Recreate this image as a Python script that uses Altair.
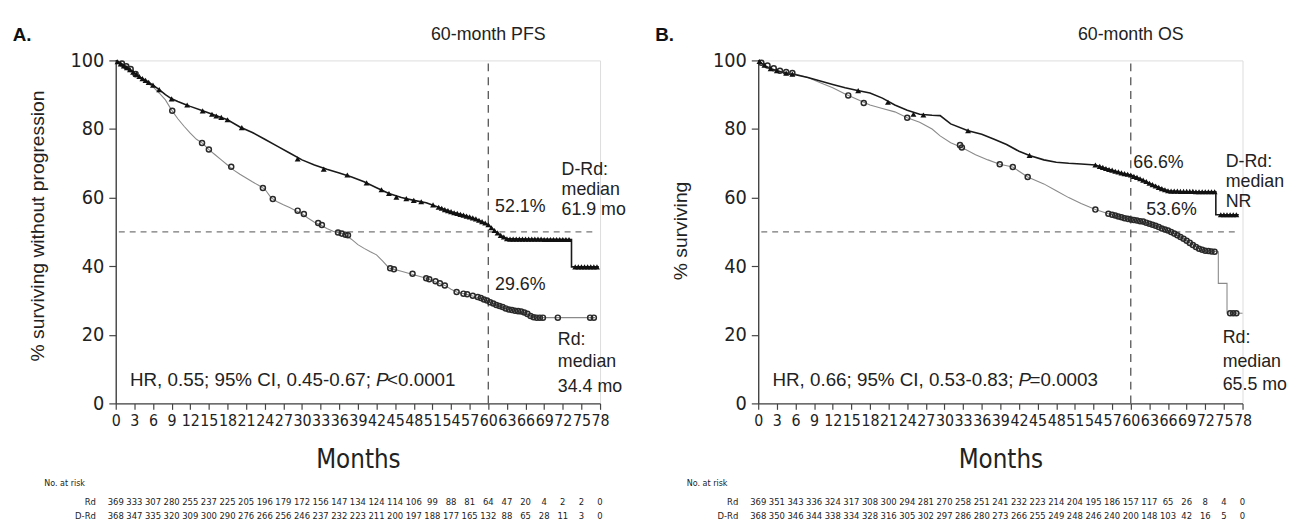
import altair as alt
import pandas as pd

SANS = "Liberation Sans, Arial, Helvetica, sans-serif"
NARROW = "Liberation Sans Narrow, Arial Narrow, DejaVu Sans Condensed, sans-serif"
INK = "#222222"

month_ticks = list(range(0, 79, 3))
pct_ticks = [0, 20, 40, 60, 80, 100]

# ---------------- Panel A: PFS ----------------
pfs_drd_m = [0, 1, 2, 3, 4, 5, 6, 7, 8, 9, 10, 11, 12, 14, 16, 18, 20, 22, 24, 26, 28, 30, 32, 34, 36, 38, 40,
             42, 44, 46, 48, 50, 52, 54, 56, 58, 60, 61, 62, 63, 73.4, 73.4, 77.8]
pfs_drd_s = [100, 99, 97.8, 96.3, 95, 94, 92.8, 91.5, 90, 88.8, 88, 87.3, 86.6, 85.3, 84, 82.7, 80.6, 79, 77, 75,
             73, 71, 69.5, 68.3, 67.2, 66, 64.6, 62.9, 61.2, 60, 59.2, 58.5, 57.2, 55.9, 54.9, 53.8, 52.1, 50.4,
             49, 48, 47.8, 39.8, 39.8]
pfs_drd_cm = [0.3, 0.8, 1.3, 1.8, 2.3, 2.8, 3.3, 3.8, 4.3, 4.8, 5.3, 6, 7, 9, 11.5, 14, 15.5, 16.2, 17, 18, 20.3,
              29.3, 33.5, 37.3, 40.4, 42.8, 44, 45.2, 46.8, 48, 49.2, 51.1, 52, 52.5, 53, 53.5, 54, 54.5, 55,
              55.5, 56, 56.5, 57, 57.5, 58, 58.5, 59, 59.5, 60, 60.5, 61, 61.5, 62, 62.5, 63, 63.5, 64, 64.5,
              65, 65.5, 66, 66.5, 67, 67.5, 68, 68.5, 69, 69.5, 70, 70.5, 71, 71.5, 72, 72.5, 73,
              74, 74.5, 75, 75.5, 76, 76.5, 77, 77.5]
pfs_drd_cs = [99.6, 99, 98.4, 97.9, 97.3, 96.6, 96, 95.3, 94.7, 94.2, 93.6, 92.8, 91.5, 88.8, 87, 85.3, 84.3, 83.8,
              83.4, 82.7, 80.4, 71.3, 68.3, 66.6, 64.3, 62.3, 61.2, 60.1, 59.7, 59.2, 58.8, 57.9, 57.2, 56.9,
              56.5, 56.2, 55.9, 55.6, 55.4, 55.1, 54.9, 54.6, 54.4, 54.1, 53.8, 53.4, 53, 52.6, 52.1, 51.2,
              50.4, 49.7, 49, 48.5, 48, 47.9, 47.9, 47.9, 47.9, 47.9, 47.9, 47.9, 47.9, 47.9, 47.9, 47.9,
              47.8, 47.8, 47.8, 47.8, 47.8, 47.8, 47.8, 47.8, 47.8,
              39.8, 39.8, 39.8, 39.8, 39.8, 39.8, 39.8, 39.8]

pfs_rd_m = [0, 1, 2, 3, 4, 5, 6, 7, 8, 9, 10, 11, 12, 13, 14, 15, 16, 17, 18, 19, 20, 21, 22, 23, 24, 25, 26, 27,
            28, 29, 30, 31, 32, 33, 34, 35, 36, 37, 38, 39, 40, 41, 42, 43, 44, 45, 46, 47, 48, 49, 50, 51, 52,
            53, 54, 55, 56, 57, 58, 59, 60, 61, 62, 63, 64, 65, 66, 67, 68, 77.2]
pfs_rd_s = [100, 99, 97.8, 96.3, 94.8, 93.5, 92.3, 90.5, 88.5, 85.5, 83, 80.8, 78.8, 77, 75.8, 74, 72.5, 71, 69.5,
            68, 66.8, 65.7, 64.6, 63.6, 62.5, 60, 58.8, 57.9, 57.1, 56.2, 55.3, 54, 52.8, 52, 51, 50.2, 49.7,
            49.2, 47.8, 46.3, 45.2, 44.2, 43.3, 41.5, 39.5, 39, 38.5, 38, 37.5, 37, 36.5, 35.8, 35, 34.4, 33.3,
            32.4, 32, 31.6, 31, 30.4, 29.7, 28.9, 28.2, 27.5, 27.1, 26.8, 26.3, 25.3, 25, 25]
pfs_rd_cm = [1, 1.7, 2.4, 3.2, 9.1, 13.9, 15, 18.6, 23.7, 25.3, 29.3, 30.3, 32.6, 33.2, 35.8, 36.4, 37, 37.4,
             44.2, 44.8, 47.8, 50, 50.5, 51.5, 52.2, 53, 54.9, 56, 56.6, 57.5, 58.3, 58.8, 59.3, 59.8, 60.3,
             60.8, 61.3, 61.8, 62.3, 62.8, 63.3, 63.8, 64.3, 64.8, 65.3, 65.8, 66.3, 66.8, 67.3, 67.8, 68.3,
             68.8, 71.2, 76.4, 77]
pfs_rd_cs = [99.1, 98.3, 97.5, 96, 85.3, 75.9, 74, 69, 62.8, 59.6, 56.2, 55.2, 52.6, 52, 49.8, 49.5, 49.2, 49,
             39.4, 39.1, 37.8, 36.5, 36.2, 35.6, 35, 34.4, 32.5, 32, 31.8, 31.4, 31, 30.7, 30.3, 30, 29.5,
             29.1, 28.7, 28.4, 28.1, 27.7, 27.4, 27.2, 27, 26.9, 26.8, 26.5, 26.1, 25.5, 25.1, 25, 25,
             25, 25, 25, 25]

pfs_risk_rd = [369, 333, 307, 280, 255, 237, 225, 205, 196, 179, 172, 156, 147, 134, 124, 114, 106, 99, 88, 81,
               64, 47, 20, 4, 2, 2, 0]
pfs_risk_drd = [368, 347, 335, 320, 309, 300, 290, 276, 266, 256, 246, 237, 232, 223, 211, 200, 197, 188, 177,
                165, 132, 88, 65, 28, 11, 3, 0]

# ---------------- Panel B: OS ----------------
os_drd_m = [0, 1, 2, 3, 4, 5, 6, 8, 10, 12, 14, 16, 18, 20, 22, 24, 26, 28, 29.3, 31, 33.8, 36, 38, 40, 42, 43.7,
            46, 48, 50, 52, 54.3, 55.5, 57, 58.5, 60, 61.5, 63, 64.5, 66, 68, 73.7, 73.7, 77.4]
os_drd_s = [100, 98.5, 97.6, 97, 96.5, 96, 95.8, 95, 94, 93, 92, 91.2, 90.5, 89, 87, 85.5, 84.3, 84, 83.9, 81.5,
            79.5, 78.5, 77, 75.5, 73.5, 72.3, 71, 70.3, 70, 69.8, 69.5, 68.8, 68, 67.2, 66.6, 65.5, 64.2, 63, 62,
            61.8, 61.7, 55, 55]
os_drd_cm = [0.2, 1, 2, 3, 4.5, 5.5, 16.1, 20.9, 25, 26.6, 33.8, 43.7, 54.3, 55, 55.5, 56, 56.5, 57, 57.5, 58,
             58.5, 59, 59.5, 60, 60.5, 61, 61.5, 62, 62.5, 63, 63.5, 64, 64.5, 65, 65.5, 66, 66.5, 67, 67.5,
             68, 68.5, 69, 69.5, 70, 70.5, 71, 71.5, 72, 72.5, 73, 73.5, 74.5, 75, 75.5, 76, 76.5, 77]
os_drd_cs = [99.7, 98.6, 97.6, 97, 96.3, 96, 91.2, 87.8, 84.3, 84.1, 79.5, 72.3, 69.5, 69.1, 68.8, 68.5, 68.2,
             68, 67.7, 67.5, 67.2, 67, 66.8, 66.6, 66.2, 65.9, 65.5, 65.1, 64.7, 64.2, 63.8, 63.4, 63, 62.6,
             62.3, 62, 61.9, 61.9, 61.9, 61.8, 61.8, 61.8, 61.8, 61.8, 61.7, 61.7, 61.7, 61.7, 61.7, 61.7,
             61.7, 55, 55, 55, 55, 55, 55]

os_rd_m = [0, 1, 2, 4, 6, 8, 10, 12, 14, 16, 18, 20, 22, 24, 26, 28, 29.3, 31, 32.8, 35, 37, 38.9, 41, 43.4, 46,
           48, 50, 52, 54.3, 56.4, 58, 60, 62, 64, 66.4, 68, 69.1, 71.2, 72, 74.1, 74.1, 75.5, 75.5, 78]
os_rd_s = [100, 98.5, 97.6, 96.6, 96, 95, 93.5, 92, 90.2, 88.6, 87, 86, 85, 83.3, 82, 80, 78, 76, 74.6, 72.5, 71,
           69.7, 68.9, 66, 64, 62, 60, 58.3, 56.5, 55.3, 54.5, 53.6, 53, 51.8, 50.1, 48.5, 47.3, 45, 44.5, 44.2,
           35, 35, 26.4, 26.3]
os_rd_cm = [0.5, 1.5, 2.5, 3.5, 4.5, 5.5, 14.5, 17, 24, 32.5, 32.8, 38.9, 41, 43.4, 54.3, 56.4, 57, 57.5, 58,
            58.5, 59, 59.5, 60, 60.5, 61, 61.5, 62, 62.5, 63, 63.5, 64, 64.5, 65, 65.5, 66, 66.5, 67, 67.5, 68,
            68.5, 69, 69.5, 70, 70.5, 71, 71.5, 72, 72.5, 73, 73.5, 76, 76.5, 77]
os_rd_cs = [99.3, 98.5, 97.7, 97, 96.6, 96.3, 89.8, 87.6, 83.3, 75.3, 74.6, 69.7, 68.9, 66, 56.5, 55.3, 55, 54.8,
            54.5, 54.3, 54, 53.8, 53.6, 53.5, 53.3, 53.1, 53, 52.7, 52.4, 52.1, 51.8, 51.4, 51, 50.7, 50.4, 50,
            49.5, 49, 48.5, 48, 47.4, 46.8, 46.2, 45.6, 45.1, 44.8, 44.5, 44.4, 44.3, 44.2, 26.3, 26.3, 26.3]

os_risk_rd = [369, 351, 343, 336, 324, 317, 308, 300, 294, 281, 270, 258, 251, 241, 232, 223, 214, 204, 195, 186,
              157, 117, 65, 26, 8, 4, 0]
os_risk_drd = [368, 350, 346, 344, 338, 334, 328, 316, 305, 302, 297, 286, 280, 273, 266, 255, 249, 248, 246,
               240, 200, 148, 103, 42, 16, 5, 0]

# ---------------- annotation texts ----------------
pfs_texts = ["52.1%", "D-Rd:", "median", "61.9 mo", "29.6%", "Rd:", "median", "34.4 mo"]
pfs_text_m = [61.1, 71.8, 71.8, 71.8, 61.1, 71.2, 71.2, 71.2]
pfs_text_s = [57.1, 68.0, 62.2, 56.5, 34.4, 18.6, 12.0, 4.9]
pfs_hr = ["HR, 0.55; 95% CI, 0.45-0.67; ", "P", "<0.0001"]
pfs_hr_m = [2.3, 41.9, 43.7]

os_texts = ["66.6%", "D-Rd:", "median", "NR", "53.6%", "Rd:", "median", "65.5 mo"]
os_text_m = [60.4, 75.3, 75.3, 75.3, 62.5, 74.8, 74.8, 74.8]
os_text_s = [70.0, 70.3, 64.6, 58.8, 56.5, 19.1, 12.0, 5.3]
os_hr = ["HR, 0.66; 95% CI, 0.53-0.83; ", "P", "=0.0003"]
os_hr_m = [2.3, 41.9, 43.7]


def df(m, s, extra=None):
    d = pd.DataFrame({"m": m, "s": s})
    d["i"] = range(len(d))
    if extra:
        for k, v in extra.items():
            d[k] = v
    return d


def panel(letter, top_title, ytitle, ytitle_y, drd, drd_c, rd, rd_c, texts, text_m, text_s, hr, hr_m,
          risk_rd, risk_drd):
    xscale = alt.Scale(domain=[0, 78], nice=False, zero=False)
    yscale = alt.Scale(domain=[0, 100], nice=False, zero=False)
    xaxis = alt.Axis(values=month_ticks, labelFont=NARROW, labelFontSize=16, labelColor=INK, labelPadding=3,
                     labelOverlap=False, labelFlush=False, tickSize=6, tickColor="#444", domainColor="#444",
                     tickWidth=1.2, domainWidth=1.4, grid=False, title="Months", titleFont=NARROW,
                     titleFontSize=26, titleFontWeight="normal", titleColor=INK, titleX=245, titleY=57,
                     titleBaseline="middle", titleAlign="center")
    yaxis = alt.Axis(values=pct_ticks, labelFont=NARROW, labelFontSize=20, labelColor=INK, labelPadding=5,
                     tickSize=7, tickColor="#444", domainColor="#444", tickWidth=1.2, domainWidth=1.4,
                     grid=False, title=ytitle, titleFont=SANS, titleFontSize=19.5, titleFontWeight="normal",
                     titleColor=INK, titleAngle=270, titleX=-79, titleY=ytitle_y, titleAlign="center",
                     titleBaseline="middle")
    X = alt.X("m:Q", scale=xscale, axis=xaxis)
    Y = alt.Y("s:Q", scale=yscale, axis=yaxis)

    layers = []
    layers.append(alt.Chart(df([0.5], [50], {"m2": [77]})).mark_rule(
        color="#777", strokeWidth=1.3, strokeDash=[6, 5]).encode(x=X, x2="m2:Q", y=Y))
    layers.append(alt.Chart(df([60], [0], {"s2": [100.6]})).mark_rule(
        color="#555", strokeWidth=1.3, strokeDash=[8, 6]).encode(x=X, y=Y, y2="s2:Q"))
    layers.append(alt.Chart(df(*rd)).mark_line(color="#8a8a8a", strokeWidth=1.1).encode(
        x=X, y=Y, order="i:Q"))
    layers.append(alt.Chart(df(*drd)).mark_line(color="#1a1a1a", strokeWidth=1.6).encode(
        x=X, y=Y, order="i:Q"))
    layers.append(alt.Chart(df(*rd_c)).mark_point(shape="circle", filled=False, size=26, color="#2a2a2a",
                                                   strokeWidth=1.5, opacity=1).encode(x=X, y=Y))
    layers.append(alt.Chart(df(*drd_c)).mark_point(shape="triangle-up", filled=True, size=36, color="#111",
                                                    opacity=1).encode(x=X, y=Y))
    # annotations
    layers.append(alt.Chart(df(text_m, text_s, {"t": texts})).mark_text(
        align="left", baseline="middle", font=SANS, fontSize=18, color=INK).encode(x=X, y=Y, text="t:N"))
    layers.append(alt.Chart(df([hr_m[0], hr_m[2]], [6.7, 6.7], {"t": [hr[0], hr[2]]})).mark_text(
        align="left", baseline="middle", font=SANS, fontSize=19, color=INK).encode(x=X, y=Y, text="t:N"))
    layers.append(alt.Chart(df([hr_m[1]], [6.7], {"t": [hr[1]]})).mark_text(
        align="left", baseline="middle", font=SANS, fontSize=19, fontStyle="italic", color=INK).encode(
        x=X, y=Y, text="t:N"))
    layers.append(alt.Chart(df([60], [107.5], {"t": [top_title]})).mark_text(
        align="center", baseline="middle", font=SANS, fontSize=18, color=INK).encode(x=X, y=Y, text="t:N"))
    layers.append(alt.Chart(df([-16.6], [107.5], {"t": [letter]})).mark_text(
        align="left", baseline="middle", font=SANS, fontSize=19, fontWeight="bold", color="#111").encode(
        x=X, y=Y, text="t:N"))
    # number at risk table
    risk = pd.concat([
        df(month_ticks, [-28.8] * len(month_ticks), {"t": [str(v) for v in risk_rd]}),
        df(month_ticks, [-32.9] * len(month_ticks), {"t": [str(v) for v in risk_drd]}),
    ])
    layers.append(alt.Chart(risk).mark_text(align="center", baseline="middle", font=NARROW, fontSize=9.5,
                                            color=INK).encode(x=X, y=Y, text="t:N"))
    layers.append(alt.Chart(df([-3.2, -3.2], [-28.8, -32.9], {"t": ["Rd", "D-Rd"]})).mark_text(
        align="right", baseline="middle", font=NARROW, fontSize=9.5, color=INK).encode(x=X, y=Y, text="t:N"))
    layers.append(alt.Chart(df([-11.5], [-23.3], {"t": ["No. at risk"]})).mark_text(
        align="left", baseline="middle", font=NARROW, fontSize=9, color=INK).encode(x=X, y=Y, text="t:N"))
    return alt.layer(*layers).properties(width=490, height=347)


A = panel("A.", "60-month PFS", "% surviving without progression", 167,
          (pfs_drd_m, pfs_drd_s), (pfs_drd_cm, pfs_drd_cs), (pfs_rd_m, pfs_rd_s), (pfs_rd_cm, pfs_rd_cs),
          pfs_texts, pfs_text_m, pfs_text_s, pfs_hr, pfs_hr_m, pfs_risk_rd, pfs_risk_drd)
B = panel("B.", "60-month OS", "% surviving", 172,
          (os_drd_m, os_drd_s), (os_drd_cm, os_drd_cs), (os_rd_m, os_rd_s), (os_rd_cm, os_rd_cs),
          os_texts, os_text_m, os_text_s, os_hr, os_hr_m, os_risk_rd, os_risk_drd)

chart = alt.hconcat(A, B, spacing=160, bounds="flush").properties(
    padding={"left": 4, "top": 14, "right": 0, "bottom": 0}
).configure_view(stroke=None).configure(background="white")

chart.save("out.html", embed_options={"renderer": "svg", "actions": False})
